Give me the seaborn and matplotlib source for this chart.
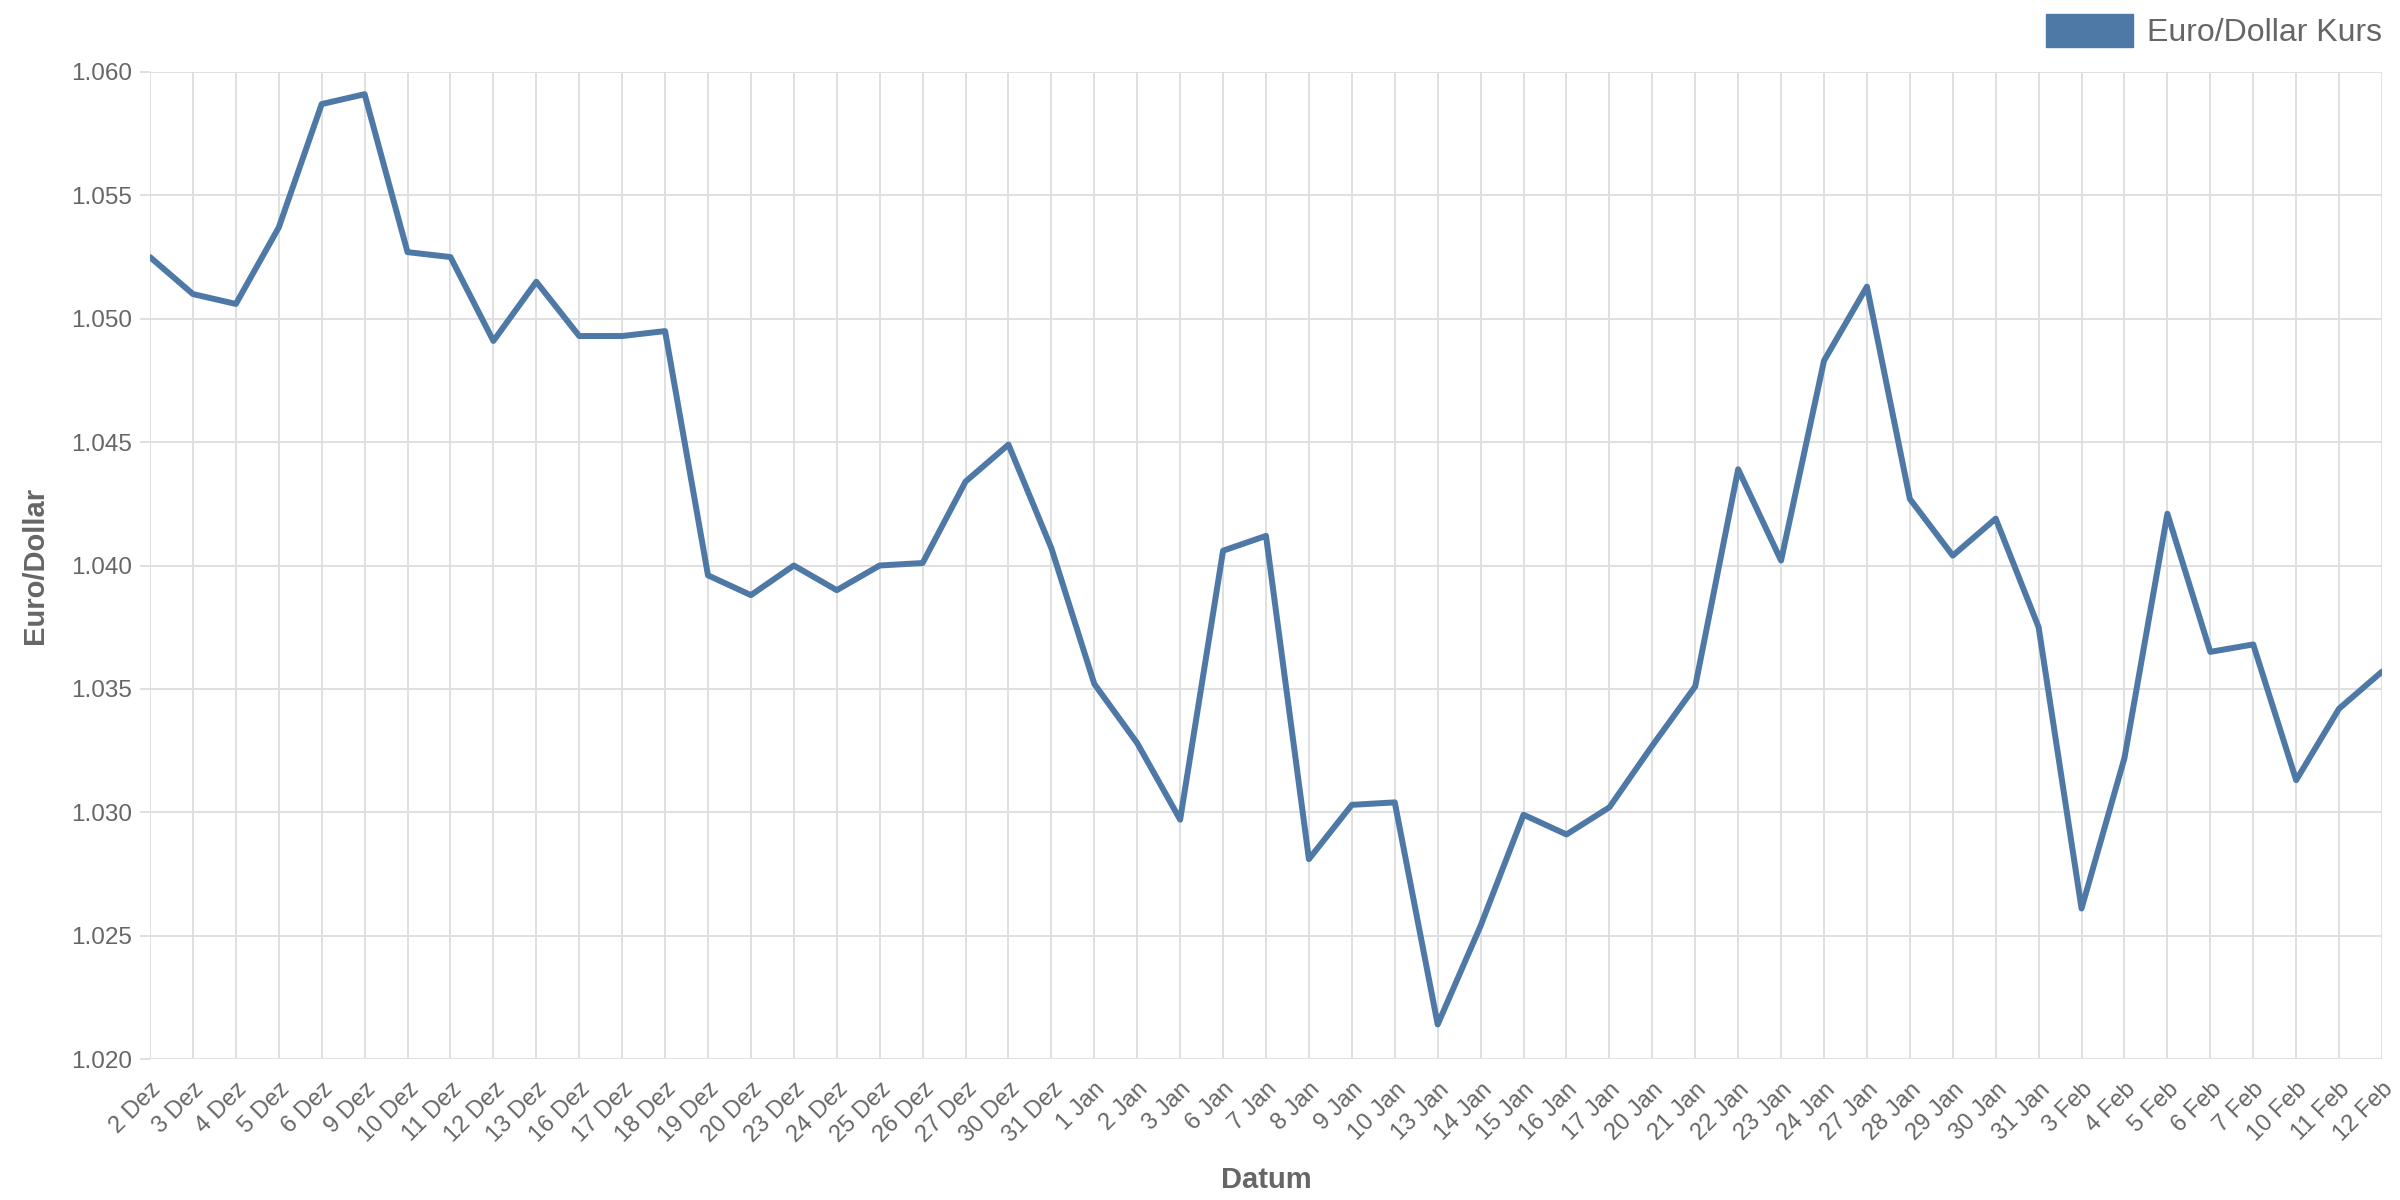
import pandas as pd
import matplotlib
matplotlib.use("Agg")
import matplotlib.pyplot as plt
from matplotlib.patches import Patch
import seaborn as sns

# Euro/Dollar exchange rate, Dec - Feb
dates = [
    "2 Dez", "3 Dez", "4 Dez", "5 Dez", "6 Dez", "9 Dez", "10 Dez", "11 Dez",
    "12 Dez", "13 Dez", "16 Dez", "17 Dez", "18 Dez", "19 Dez", "20 Dez",
    "23 Dez", "24 Dez", "25 Dez", "26 Dez", "27 Dez", "30 Dez", "31 Dez",
    "1 Jan", "2 Jan", "3 Jan", "6 Jan", "7 Jan", "8 Jan", "9 Jan", "10 Jan",
    "13 Jan", "14 Jan", "15 Jan", "16 Jan", "17 Jan", "20 Jan", "21 Jan",
    "22 Jan", "23 Jan", "24 Jan", "27 Jan", "28 Jan", "29 Jan", "30 Jan",
    "31 Jan", "3 Feb", "4 Feb", "5 Feb", "6 Feb", "7 Feb", "10 Feb",
    "11 Feb", "12 Feb",
]
kurs = [
    1.0525, 1.0510, 1.0506, 1.0537, 1.0587, 1.0591, 1.0527, 1.0525,
    1.0491, 1.0515, 1.0493, 1.0493, 1.0495, 1.0396, 1.0388,
    1.0400, 1.0390, 1.0400, 1.0401, 1.0434, 1.0449, 1.0407,
    1.0352, 1.0328, 1.0297, 1.0406, 1.0412, 1.0281, 1.0303, 1.0304,
    1.0214, 1.0254, 1.0299, 1.0291, 1.0302, 1.0327, 1.0351,
    1.0439, 1.0402, 1.0483, 1.0513, 1.0427, 1.0404, 1.0419,
    1.0375, 1.0261, 1.0322, 1.0421, 1.0365, 1.0368, 1.0313,
    1.0342, 1.0357,
]
yticks = [1.020, 1.025, 1.030, 1.035, 1.040, 1.045, 1.050, 1.055, 1.060]

df = pd.DataFrame({"Datum": dates, "Kurs": kurs})

line_color = "#4e79a7"
text_color = "#666666"
grid_color = "#e0e0e0"

sns.set_theme(style="whitegrid")
plt.rcParams["font.family"] = ["Liberation Sans", "DejaVu Sans"]

fig = plt.figure(figsize=(24, 12), dpi=100)
ax = fig.add_axes([0.0625, 0.1175, 0.930, 0.8225])

sns.lineplot(data=df, x="Datum", y="Kurs", sort=False, color=line_color,
             linewidth=4.3, ax=ax)

ax.set_xlim(0, len(dates) - 1)
ax.set_ylim(1.020, 1.060)
ax.set_yticks(yticks)
ax.set_yticklabels([f"{v:.3f}" for v in yticks])
ax.set_xticks(range(len(dates)))
ax.set_xticklabels(dates, rotation=45, ha="right", rotation_mode="anchor")

ax.grid(True, color=grid_color, linewidth=1.4)
for s in ax.spines.values():
    s.set_visible(False)

ax.tick_params(axis="y", labelsize=17.5, labelcolor=text_color, length=7,
               width=1.4, color=grid_color, pad=6, left=True)
ax.tick_params(axis="x", labelsize=17, labelcolor=text_color, length=0, pad=14)

ax.set_xlabel("Datum", fontsize=21, color=text_color, fontweight="bold",
              labelpad=14)
ax.set_ylabel("Euro/Dollar", fontsize=21, color=text_color, fontweight="bold",
              labelpad=16)

handle = Patch(facecolor=line_color, edgecolor=line_color)
leg = fig.legend(handles=[handle], labels=["Euro/Dollar Kurs"],
                 loc="upper right", bbox_to_anchor=(2382 / 2400, 1 - 14 / 1200),
                 frameon=False, borderpad=0, borderaxespad=0,
                 handlelength=2.7, handleheight=1.2, handletextpad=0.45,
                 prop={"size": 23})
for t in leg.get_texts():
    t.set_color(text_color)

fig.savefig("out.png", dpi=100)
